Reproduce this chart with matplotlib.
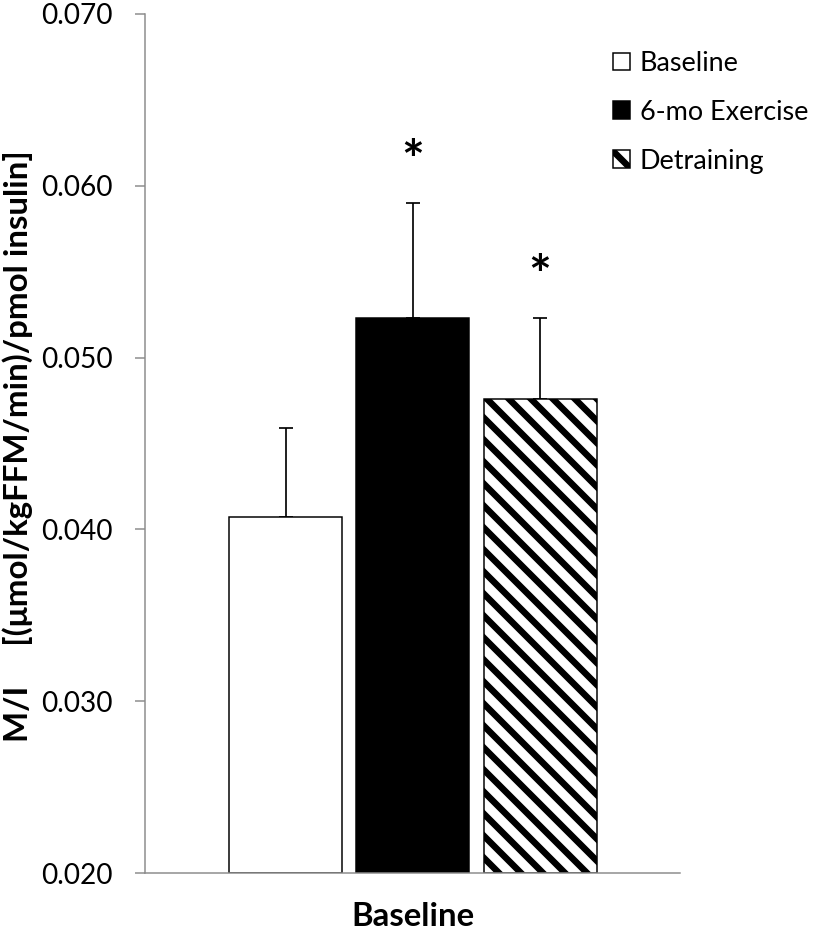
import matplotlib
matplotlib.use("Agg")
import matplotlib.pyplot as plt
from matplotlib.patches import Patch

# ---- data ----
groups = ["Baseline", "6-mo Exercise", "Detraining"]
values = [0.0407, 0.0523, 0.0476]
errors = [0.0052, 0.0067, 0.0047]
signif = ["", "*", "*"]
category = ["Baseline"]
yticks = [0.020, 0.030, 0.040, 0.050, 0.060, 0.070]
ylabel = "M/I     [(\u03bcmol/kgFFM/min)/pmol insulin]"

DPI = 132
W, H = 815, 930


def pt(px):
    return px * 72.0 / DPI


plt.rcParams["font.family"] = ["Lato", "DejaVu Sans"]
plt.rcParams["hatch.linewidth"] = pt(6.5)

fig = plt.figure(figsize=(W / DPI, H / DPI), dpi=DPI)
left, right, top, bottom = 145, 680, 14, 873
ax = fig.add_axes([left / W, 1 - bottom / H, (right - left) / W, (bottom - top) / H])

faces = ["white", "black", "white"]
hatches = [None, None, "\\\\"]
xs = list(range(len(groups)))
for x, v, e, fc, h, g in zip(xs, values, errors, faces, hatches, groups):
    ax.bar(x, v - 0.020, bottom=0.020, width=0.888, color=fc, edgecolor="black",
           linewidth=pt(1.5), hatch=h, label=g, zorder=2)
    ax.errorbar(x, v, yerr=[[0], [e]], fmt="none", ecolor="black",
                elinewidth=pt(1.7), capsize=pt(7), capthick=pt(1.7), zorder=1)

for x, v, e, s in zip(xs, values, errors, signif):
    if s:
        ax.annotate(s, xy=(x, v + e), xytext=(0, pt(40.5)), textcoords="offset points",
                    ha="center", va="center", fontsize=pt(54), fontweight="bold")

ax.set_xlim(-1.105, 3.1)
ax.set_ylim(0.020, 0.070)
ax.set_yticks(yticks)
ax.set_yticklabels([f"{t:.3f}" for t in yticks])
ax.set_xticks([1])
ax.set_xticklabels(category, fontweight="bold", fontsize=pt(33))

gray = "#8c8c8c"
for sp in ["top", "right"]:
    ax.spines[sp].set_visible(False)
for sp in ["left", "bottom"]:
    ax.spines[sp].set_color(gray)
    ax.spines[sp].set_linewidth(pt(1.5))
ax.tick_params(axis="y", direction="out", length=pt(10), width=pt(1.5), color=gray,
               labelsize=pt(28), pad=pt(22))
ax.tick_params(axis="x", length=0, pad=pt(29))

ax.set_ylabel(ylabel, fontsize=pt(33), fontweight="bold", va="center")
ax.yaxis.set_label_coords((18 - left) / (right - left), 0.497)

handles = [Patch(facecolor=fc, edgecolor="black", linewidth=pt(1.5), hatch=h)
           for fc, h in zip(faces, hatches)]
fig.legend(handles, groups, loc="upper left",
           bbox_to_anchor=(613 / W, 1 - 51 / H), frameon=False,
           fontsize=pt(27), handlelength=0.63, handleheight=0.63,
           handletextpad=0.37, labelspacing=0.88, borderaxespad=0, borderpad=0)

fig.savefig("out.png", dpi=DPI)
